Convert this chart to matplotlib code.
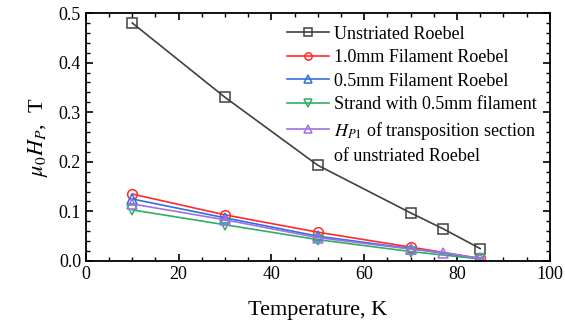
import matplotlib
matplotlib.use("Agg")
import matplotlib.pyplot as plt
from matplotlib.ticker import MultipleLocator

plt.rcParams['font.family'] = ['Liberation Serif', 'DejaVu Serif']
plt.rcParams['mathtext.fontset'] = 'stix'

### data ###
T_unstr = [10, 30, 50, 70, 77, 85]
H_unstr = [0.48, 0.33, 0.193, 0.097, 0.065, 0.025]

T_fil = [10, 30, 50, 70, 85]
H_red = [0.135, 0.093, 0.058, 0.028, 0.005]
H_blue = [0.125, 0.087, 0.050, 0.025, 0.005]
H_green = [0.103, 0.073, 0.043, 0.019, 0.004]

T_p1 = [10, 30, 50, 70, 77, 85]
H_p1 = [0.115, 0.083, 0.047, 0.024, 0.017, 0.005]

labels = ['Unstriated Roebel', '1.0mm Filament Roebel', '0.5mm Filament Roebel',
          'Strand with 0.5mm filament',
          '$H_{P1}$ of transposition section', 'of unstriated Roebel']

fig = plt.figure(figsize=(5.65, 3.35), dpi=100)
ax = fig.add_axes([0.152, 0.221, 0.821, 0.74])

mk = dict(markersize=7, markerfacecolor='none', markeredgewidth=1.1, linewidth=1.2)
ax.plot(T_unstr, H_unstr, '-s', color='#404040', label=labels[0], **mk)
ax.plot(T_fil, H_red, '-o', color='#ff2a2a', label=labels[1], **mk)
ax.plot(T_fil, H_blue, '-^', color='#2f6fe0', label=labels[2], **mk)
ax.plot(T_fil, H_green, '-v', color='#2fb060', label=labels[3], **mk)
ax.plot(T_p1, H_p1, '-^', color='#a070e8', label=labels[4], **mk)
# continuation line of the last legend entry
ax.plot([], [], color='none', label=labels[5])

ax.set_xlim(0, 100)
ax.set_ylim(0, 0.5)
ax.xaxis.set_major_locator(MultipleLocator(20))
ax.xaxis.set_minor_locator(MultipleLocator(5))
ax.yaxis.set_major_locator(MultipleLocator(0.1))
ax.yaxis.set_minor_locator(MultipleLocator(0.02))
ax.tick_params(which='both', direction='in', top=True, right=True, labelsize=13)
ax.tick_params(which='major', length=5, width=1.2)
ax.tick_params(which='minor', length=3, width=1)
for s in ax.spines.values():
    s.set_linewidth(1.3)

ax.set_xlabel('Temperature, K', fontsize=16, labelpad=13)
ax.set_ylabel('$\\mu_0 H_P$,  T', fontsize=16, labelpad=6)

ax.legend(loc='upper right', frameon=False, fontsize=13, handlelength=2.3,
          handletextpad=0.3, labelspacing=0.36, borderaxespad=0.3,
          markerscale=0.75)

fig.savefig('out.png', dpi=100)
